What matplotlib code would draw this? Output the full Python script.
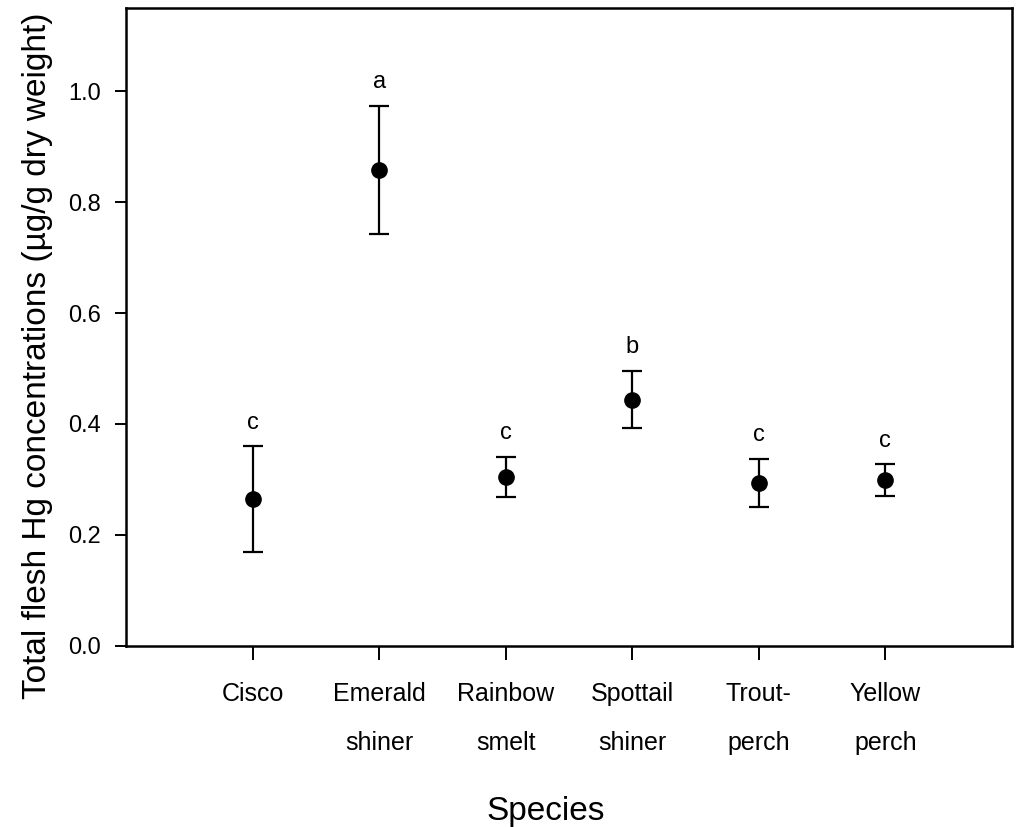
import matplotlib
matplotlib.use("Agg")
import matplotlib.pyplot as plt
import numpy as np

plt.rcParams['font.family'] = ['Liberation Sans', 'DejaVu Sans']

# mean total flesh Hg by species, with error bar half-widths
species = ["Cisco", "Emerald\nshiner", "Rainbow\nsmelt", "Spottail\nshiner",
           "Trout-\nperch", "Yellow\nperch"]
hg_mean = [0.265, 0.858, 0.305, 0.444, 0.294, 0.299]
hg_err = [0.095, 0.116, 0.036, 0.052, 0.043, 0.028]
groups = ["c", "a", "c", "b", "c", "c"]

fig = plt.figure(figsize=(10.17, 8.27), dpi=100)
ax = fig.add_axes([0.124, 0.219, 0.871, 0.7715])

x = np.arange(1, len(species) + 1)
ax.errorbar(x, hg_mean, yerr=hg_err, fmt="o", color="black", ms=11,
            elinewidth=1.6, capsize=7, capthick=1.6)

# significance letters above each bar
for xi, m, e, g in zip(x, hg_mean, hg_err, groups):
    ax.annotate(g, (xi, m + e), xytext=(0, 9), textcoords="offset points",
                ha="center", va="bottom", fontsize=17)

ax.set_xlim(0, 7)
ax.set_ylim(0, 1.15)
ax.set_yticks([0.0, 0.2, 0.4, 0.6, 0.8, 1.0])
ax.set_yticklabels(["0.0", "0.2", "0.4", "0.6", "0.8", "1.0"])
ax.set_xticks(x)
ax.set_xticklabels(species, linespacing=2.3)

ax.tick_params(axis="y", labelsize=17, length=8, width=1.4, pad=10)
ax.tick_params(axis="x", labelsize=18, length=10, width=1.4, pad=16)
for s in ax.spines.values():
    s.set_linewidth(1.8)

ax.set_xlabel("Species", fontsize=24)
ax.set_ylabel("Total flesh Hg concentrations (µg/g dry weight)", fontsize=24)
ax.xaxis.set_label_coords(0.474, -0.236)
ax.yaxis.set_label_coords(-0.083, 0.455)

fig.savefig("out.png", dpi=100)
